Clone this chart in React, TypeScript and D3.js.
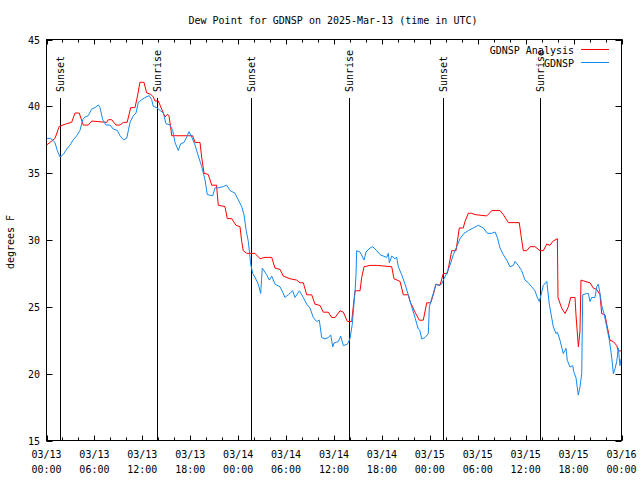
import React from "react";
import * as d3 from "d3";

const title = "Dew Point for GDNSP on 2025-Mar-13 (time in UTC)";
const yLabel = "degrees F";
const startTime = Date.UTC(2025, 2, 13, 0, 0);
const endTime = Date.UTC(2025, 2, 16, 0, 0);
const yTicks = [15, 20, 25, 30, 35, 40, 45];

const sunsetHours = [1.65, 25.62, 49.68];
const sunriseHours = [13.85, 37.82, 61.83];

const analysisHours = [0, 1.06, 1.6, 2.5, 3.15, 3.57, 4.1, 4.6, 5.23, 5.66, 7.54, 7.74, 8.16, 8.7, 9.2, 9.62, 10.1, 10.54, 11.08, 11.37, 11.7, 12.2, 12.55, 13.05, 13.37, 13.59, 14.0, 14.42, 14.84, 15.13, 15.34, 15.53, 15.68, 17.76, 18.3, 18.6, 19.22, 19.43, 19.72, 20.26, 20.69, 21.29, 21.51, 22.35, 22.64, 23.19, 23.73, 24.23, 24.44, 24.64, 25.07, 26.11, 26.73, 27.36, 28.2, 28.61, 29.24, 29.65, 30.49, 31.33, 31.74, 32.16, 32.58, 33.21, 33.62, 34.25, 34.66, 35.29, 35.71, 36.13, 36.75, 37.17, 37.67, 38.22, 38.34, 38.63, 39.26, 39.47, 39.76, 40.51, 41.35, 43.23, 43.51, 44.27, 44.68, 45.3, 45.52, 46.14, 46.68, 47.18, 47.61, 48.11, 48.43, 48.77, 49.27, 49.69, 50.19, 50.52, 50.74, 51.28, 51.69, 52.19, 52.41, 52.82, 53.24, 53.66, 55.12, 55.45, 55.75, 56.79, 57.2, 57.83, 59.2, 59.38, 59.7, 60.13, 60.54, 61.17, 61.8, 62.21, 62.64, 63.05, 63.39, 63.97, 64.05, 64.51, 64.93, 65.34, 65.64, 66.18, 66.3, 66.6, 66.8, 66.93, 67.43, 68.06, 68.47, 68.9, 69.31, 69.52, 69.93, 70.22, 70.56, 70.97, 71.4, 71.6, 71.94];
const analysisValues = [37.1, 37.6, 38.5, 38.7, 38.8, 39.5, 39.5, 38.6, 38.6, 38.9, 38.8, 39.0, 39.0, 38.6, 38.6, 38.8, 38.8, 39.9, 39.9, 40.7, 41.8, 41.8, 41.0, 40.9, 40.7, 40.4, 40.4, 39.8, 39.2, 39.4, 39.3, 38.5, 37.8, 37.8, 37.8, 37.3, 37.3, 36.2, 35.0, 34.9, 34.1, 34.1, 32.6, 32.5, 31.6, 31.6, 31.1, 31.0, 29.9, 29.2, 29.0, 29.0, 28.6, 28.7, 28.7, 27.9, 27.8, 27.3, 27.1, 27.0, 26.8, 26.8, 25.9, 25.9, 25.2, 25.1, 24.6, 24.6, 24.2, 24.2, 24.7, 24.6, 23.9, 23.9, 24.6, 26.2, 26.2, 27.2, 28.0, 28.1, 28.1, 28.0, 27.1, 26.9, 25.9, 25.9, 25.4, 24.6, 24.0, 24.0, 25.3, 25.3, 25.9, 26.7, 26.6, 27.5, 27.5, 28.5, 29.2, 29.2, 30.9, 30.9, 31.4, 32.0, 32.0, 31.9, 31.8, 32.0, 32.2, 32.2, 31.9, 31.3, 31.3, 30.5, 29.2, 29.2, 29.5, 29.5, 29.2, 29.2, 29.7, 29.6, 29.9, 30.1, 25.7, 24.9, 24.5, 25.0, 25.7, 25.7, 24.4, 22.0, 23.2, 27.0, 26.9, 26.8, 26.4, 26.3, 25.9, 24.5, 24.4, 23.5, 22.5, 22.4, 22.1, 21.7, 21.7];

const obsHours = [0, 0.53, 1.06, 1.35, 1.69, 2.1, 2.53, 2.94, 3.36, 3.78, 4.19, 4.53, 4.82, 5.23, 5.66, 6.07, 6.49, 6.7, 7.04, 7.45, 7.95, 8.36, 8.87, 9.2, 9.62, 10.04, 10.46, 10.87, 11.21, 11.5, 11.92, 12.46, 12.87, 13.17, 13.37, 13.8, 14.21, 14.63, 14.96, 15.46, 15.8, 16.09, 16.5, 16.8, 17.22, 17.56, 17.84, 18.18, 18.6, 19.0, 19.43, 19.85, 20.13, 20.81, 21.1, 21.51, 22.14, 22.56, 22.98, 23.6, 24.02, 24.44, 24.73, 24.98, 25.27, 25.57, 25.82, 26.11, 26.52, 26.82, 27.02, 27.57, 27.9, 28.2, 28.61, 29.24, 29.58, 29.86, 30.28, 30.83, 31.12, 31.66, 32.16, 32.58, 33.0, 33.41, 33.83, 34.16, 34.46, 34.87, 35.29, 35.59, 35.84, 36.0, 36.54, 36.84, 37.17, 37.67, 38.0, 38.29, 38.5, 38.63, 38.76, 38.84, 39.26, 39.76, 40.01, 40.51, 40.85, 41.35, 41.76, 42.6, 42.8, 42.93, 43.23, 43.64, 43.85, 44.05, 44.48, 44.89, 45.3, 45.73, 46.14, 46.52, 46.77, 46.98, 47.4, 47.81, 47.94, 48.23, 48.43, 48.77, 49.06, 49.48, 49.69, 50.11, 50.52, 50.94, 51.37, 51.78, 52.28, 52.82, 53.44, 54.07, 54.7, 55.2, 55.75, 56.16, 56.45, 56.79, 57.2, 57.63, 58.04, 58.46, 58.67, 59.08, 59.5, 59.92, 60.33, 60.76, 61.17, 61.46, 61.71, 62.01, 62.21, 62.64, 62.96, 63.46, 63.8, 63.97, 64.3, 64.71, 65.05, 65.21, 65.55, 65.89, 66.05, 66.3, 66.59, 66.8, 67.02, 67.14, 67.64, 67.85, 68.06, 68.27, 68.68, 68.9, 69.1, 69.31, 69.52, 69.81, 70.15, 70.48, 70.78, 70.98, 71.2, 71.4, 71.6, 71.81, 71.94];
const obsValues = [37.6, 37.6, 37.3, 36.7, 36.2, 36.4, 36.8, 37.1, 37.5, 37.8, 38.2, 39.0, 39.2, 39.3, 39.8, 39.9, 40.1, 39.9, 39.0, 38.6, 38.6, 38.3, 38.2, 37.8, 37.5, 37.6, 38.8, 39.3, 39.5, 40.3, 40.5, 40.7, 40.8, 40.5, 40.0, 39.9, 39.7, 39.5, 38.7, 38.6, 38.2, 37.3, 36.7, 37.2, 37.3, 37.7, 38.1, 37.7, 37.1, 36.3, 35.5, 34.5, 33.4, 33.3, 33.9, 33.9, 34.0, 34.1, 33.7, 33.5, 33.0, 32.5, 31.9, 30.8, 29.9, 28.2, 27.5, 27.2, 26.7, 26.0, 27.9, 27.4, 27.0, 27.3, 26.7, 26.5, 26.1, 25.7, 25.9, 26.2, 25.7, 26.2, 25.7, 25.2, 24.9, 24.2, 23.9, 24.0, 22.7, 22.6, 22.7, 22.9, 22.0, 22.3, 22.4, 22.8, 22.1, 22.2, 22.6, 23.7, 25.2, 26.1, 27.5, 29.2, 29.1, 28.5, 29.1, 29.4, 29.5, 29.2, 28.9, 28.7, 29.0, 28.3, 28.8, 28.6, 28.7, 28.0, 27.4, 26.7, 25.9, 25.0, 24.2, 23.4, 23.2, 22.6, 22.7, 23.0, 25.0, 25.6, 26.0, 26.7, 26.6, 26.7, 27.0, 27.5, 28.1, 28.9, 29.5, 30.1, 30.5, 30.7, 30.9, 31.1, 30.9, 30.5, 30.5, 30.6, 30.2, 29.4, 28.9, 28.5, 28.0, 28.1, 28.4, 28.1, 27.7, 27.0, 26.8, 26.5, 26.2, 25.7, 25.4, 26.1, 26.6, 26.9, 25.2, 23.5, 23.0, 23.1, 22.5, 21.5, 21.9, 21.0, 20.5, 20.6, 20.1, 19.7, 18.4, 19.0, 20.0, 25.9, 26.0, 26.0, 25.4, 25.7, 25.7, 26.5, 26.7, 26.0, 25.1, 24.5, 23.5, 22.5, 21.2, 20.0, 20.4, 20.9, 21.9, 20.6, 21.1];

const seriesNames = ["GDNSP Analysis", "GDNSP"];
const seriesColors = ["#ff0000", "#1589f0"];

const FONT = "'DejaVu Sans Mono', monospace";

export default function App() {
  const W = 640, H = 480;
  const left = 46.5, right = 621.5, top = 39.5, bottom = 440.5;
  const toDate = (h: number) => new Date(startTime + h * 3600 * 1000);
  const x = d3.scaleUtc().domain([new Date(startTime), new Date(endTime)]).range([left, right]);
  const y = d3.scaleLinear().domain([15, 45]).range([bottom, top]);

  const line = d3.line<[number, number]>()
    .x((d) => x(toDate(d[0])))
    .y((d) => y(d[1]));

  const analysis: [number, number][] = analysisHours.map((h, i) => [h, analysisValues[i]]);
  const obs: [number, number][] = obsHours.map((h, i) => [h, obsValues[i]]);

  const majorTicks = x.ticks(d3.utcHour.every(6)!);
  const minorTicks = x.ticks(d3.utcHour.every(2)!);
  const fmtDate = d3.utcFormat("%m/%d");
  const fmtTime = d3.utcFormat("%H:%M");

  const sunEvents = [
    ...sunsetHours.map((h) => ({ h, label: "Sunset" })),
    ...sunriseHours.map((h) => ({ h, label: "Sunrise" })),
  ];

  return (
    <svg width={W} height={H} style={{ position: "absolute", left: 0, top: 0, background: "#fff" }} fontFamily={FONT} fontSize={10}>
      <rect x={0} y={0} width={W} height={H} fill="#fff" />
      <text x={333} y={24} textAnchor="middle" fill="#000">{title}</text>

      {minorTicks.map((t, i) => (
        <g key={"mn" + i}>
          <line x1={Math.round(x(t)) + 0.5} x2={Math.round(x(t)) + 0.5} y1={bottom} y2={bottom - 3} stroke="#000" />
          <line x1={Math.round(x(t)) + 0.5} x2={Math.round(x(t)) + 0.5} y1={top} y2={top + 3} stroke="#000" />
        </g>
      ))}
      {majorTicks.map((t, i) => (
        <g key={"mj" + i}>
          <line x1={Math.round(x(t)) + 0.5} x2={Math.round(x(t)) + 0.5} y1={bottom} y2={bottom - 5} stroke="#000" />
          <line x1={Math.round(x(t)) + 0.5} x2={Math.round(x(t)) + 0.5} y1={top} y2={top + 5} stroke="#000" />
          <text x={x(t)} y={458} textAnchor="middle" fill="#000">{fmtDate(t)}</text>
          <text x={x(t)} y={473} textAnchor="middle" fill="#000">{fmtTime(t)}</text>
        </g>
      ))}

      {yTicks.map((v) => (
        <g key={"y" + v}>
          <line x1={left} x2={left + 6} y1={Math.round(y(v)) + 0.5} y2={Math.round(y(v)) + 0.5} stroke="#000" />
          <line x1={right - 6} x2={right} y1={Math.round(y(v)) + 0.5} y2={Math.round(y(v)) + 0.5} stroke="#000" />
          <text x={40} y={y(v) + 4} textAnchor="end" fill="#000">{v}</text>
        </g>
      ))}

      <text transform={`translate(14,242) rotate(-90)`} textAnchor="middle" fill="#000">{yLabel}</text>

      {sunEvents.map((e, i) => {
        const sx = Math.round(x(toDate(e.h))) + 0.5;
        return (
          <g key={"sun" + i}>
            <line x1={sx} x2={sx} y1={98} y2={bottom} stroke="#000" />
            <text transform={`translate(${sx + 3.5},92) rotate(-90)`} textAnchor="start" fill="#000">{e.label}</text>
          </g>
        );
      })}

      <path d={line(analysis)!} fill="none" stroke={seriesColors[0]} strokeWidth={1} />
      <path d={line(obs)!} fill="none" stroke={seriesColors[1]} strokeWidth={1} />

      <rect x={left} y={top} width={right - left} height={bottom - top} fill="none" stroke="#000" />

      {seriesNames.map((n, i) => (
        <g key={"lg" + i}>
          <text x={574} y={54 + i * 13} textAnchor="end" fill="#000">{n}</text>
          <line x1={581} x2={609} y1={49.5 + i * 13} y2={49.5 + i * 13} stroke={seriesColors[i]} />
        </g>
      ))}
    </svg>
  );
}
